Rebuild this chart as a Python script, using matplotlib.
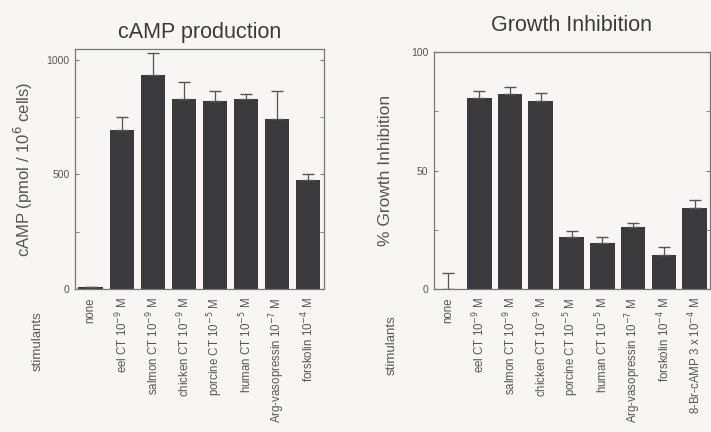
import matplotlib.pyplot as plt
import numpy as np

plt.rcParams['font.family'] = ['Liberation Sans', 'DejaVu Sans']

# cAMP production (pmol / 10^6 cells), mean and upper error
camp_labels = ['none', 'eel CT 10$^{-9}$ M', 'salmon CT 10$^{-9}$ M',
               'chicken CT 10$^{-9}$ M', 'porcine CT 10$^{-5}$ M',
               'human CT 10$^{-5}$ M', 'Arg-vasopressin 10$^{-7}$ M',
               'forskolin 10$^{-4}$ M']
camp_values = [10, 693, 934, 828, 822, 828, 743, 474]
camp_errors = [0, 57, 96, 77, 43, 22, 122, 30]

# growth inhibition (%), mean and upper error
gi_labels = ['none', 'eel CT 10$^{-9}$ M', 'salmon CT 10$^{-9}$ M',
             'chicken CT 10$^{-9}$ M', 'porcine CT 10$^{-5}$ M',
             'human CT 10$^{-5}$ M', 'Arg-vasopressin 10$^{-7}$ M',
             'forskolin 10$^{-4}$ M', '8-Br-cAMP 3 x 10$^{-4}$ M']
gi_values = [0, 80.5, 82.3, 79.5, 22.1, 19.5, 26.0, 14.3, 34.3]
gi_errors = [6.9, 3.2, 2.8, 3.1, 2.5, 2.3, 1.7, 3.3, 3.3]

bg = '#f7f6f4'
bar_color = '#3a3a3c'
text_color = '#555555'
spine_color = '#777777'

fig = plt.figure(figsize=(7.11, 4.32), dpi=100, facecolor=bg)
ax1 = fig.add_axes([0.1055, 0.331, 0.350, 0.5556])
ax2 = fig.add_axes([0.6104, 0.331, 0.3882, 0.5486])


def style_axes(ax, labels, yticks, minor):
    ax.set_facecolor(bg)
    for s in ax.spines.values():
        s.set_color(spine_color)
        s.set_linewidth(0.9)
    ax.set_yticks(yticks)
    ax.set_yticks(minor, minor=True)
    ax.tick_params(axis='y', which='both', direction='in', length=3,
                   right=True, colors=spine_color, labelcolor=text_color,
                   labelsize=7.5, pad=4)
    ax.set_xticks(np.arange(len(labels)))
    ax.set_xticklabels(labels, rotation=90, fontsize=8.3, color=text_color)
    ax.tick_params(axis='x', length=0, pad=6)


x1 = np.arange(len(camp_values))
ax1.bar(x1, camp_values, width=0.78, color=bar_color)
ax1.errorbar(x1, camp_values, yerr=[np.zeros(len(camp_errors)), camp_errors],
             fmt='none', ecolor='#555555', elinewidth=0.9, capsize=4)
ax1.set_xlim(-0.5, 7.5)
ax1.set_ylim(0, 1048)
style_axes(ax1, camp_labels, [0, 500, 1000], [250, 750])
ax1.set_title('cAMP production', fontsize=15.5, color='#3a3a3a', pad=8)
ax1.set_ylabel('cAMP (pmol / 10$^6$ cells)', fontsize=12, color=text_color,
               labelpad=8)

x2 = np.arange(len(gi_values))
ax2.bar(x2, gi_values, width=0.8, color=bar_color)
ax2.errorbar(x2, gi_values, yerr=[np.zeros(len(gi_errors)), gi_errors],
             fmt='none', ecolor='#555555', elinewidth=0.9, capsize=4)
ax2.set_xlim(-0.47, 8.5)
ax2.set_ylim(0, 100)
style_axes(ax2, gi_labels, [0, 50, 100], [25, 75])
ax2.set_title('Growth Inhibition', fontsize=15.5, color='#3a3a3a', pad=15)
ax2.set_ylabel('% Growth Inhibition', fontsize=12.5, color=text_color,
               labelpad=13)

fig.text(0.053, 0.21, 'stimulants', rotation=90, ha='center', va='center',
         fontsize=9.5, color=text_color)
fig.text(0.551, 0.20, 'stimulants', rotation=90, ha='center', va='center',
         fontsize=9.5, color=text_color)

fig.savefig('out.png', dpi=100, facecolor=bg)
